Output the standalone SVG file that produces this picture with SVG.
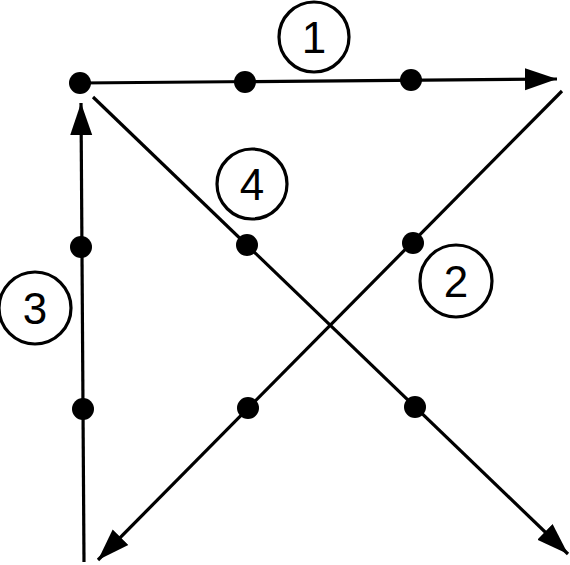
<svg xmlns="http://www.w3.org/2000/svg" width="570" height="565" viewBox="0 0 570 565">
<style>
.ln{stroke:#000;stroke-width:3.2;fill:none;marker-end:url(#ah)}
.dot{fill:#000}
.lc{fill:none;stroke:#000;stroke-width:3.2}
.lt{font-family:"Liberation Sans",Arial,sans-serif;font-size:44px;text-anchor:middle;fill:#000}
</style>
<defs>
<marker id="ah" markerUnits="userSpaceOnUse" markerWidth="34" markerHeight="26" viewBox="0 0 34 26" refX="32" refY="13" orient="auto">
<path d="M0,2 L32,13 L0,24 Z" fill="#000"/>
</marker>
</defs>
<rect width="570" height="565" fill="#fff"/>
<g id="connectors">
<line class="ln" x1="80" y1="83" x2="557" y2="79"/>
<line class="ln" x1="562" y1="91" x2="98" y2="560"/>
<line class="ln" x1="84" y1="562" x2="81" y2="103"/>
<line class="ln" x1="93" y1="97" x2="568" y2="554"/>
</g>
<g id="dots">
<circle class="dot" cx="80" cy="83" r="11"/>
<circle class="dot" cx="245" cy="82" r="11"/>
<circle class="dot" cx="411" cy="80" r="11"/>
<circle class="dot" cx="81" cy="247" r="11"/>
<circle class="dot" cx="247" cy="245" r="11"/>
<circle class="dot" cx="413" cy="243" r="11"/>
<circle class="dot" cx="83" cy="409" r="11"/>
<circle class="dot" cx="248" cy="408" r="11"/>
<circle class="dot" cx="415" cy="407" r="11"/>
</g>
<g id="label1"><circle class="lc" cx="314" cy="37" r="35"/><text class="lt" x="314" y="53">1</text></g>
<g id="label2"><circle class="lc" cx="456" cy="281" r="36"/><text class="lt" x="456" y="297">2</text></g>
<g id="label3"><circle class="lc" cx="35" cy="308" r="36"/><text class="lt" x="35" y="324">3</text></g>
<g id="label4"><circle class="lc" cx="252" cy="184" r="35"/><text class="lt" x="252" y="200">4</text></g>
</svg>
